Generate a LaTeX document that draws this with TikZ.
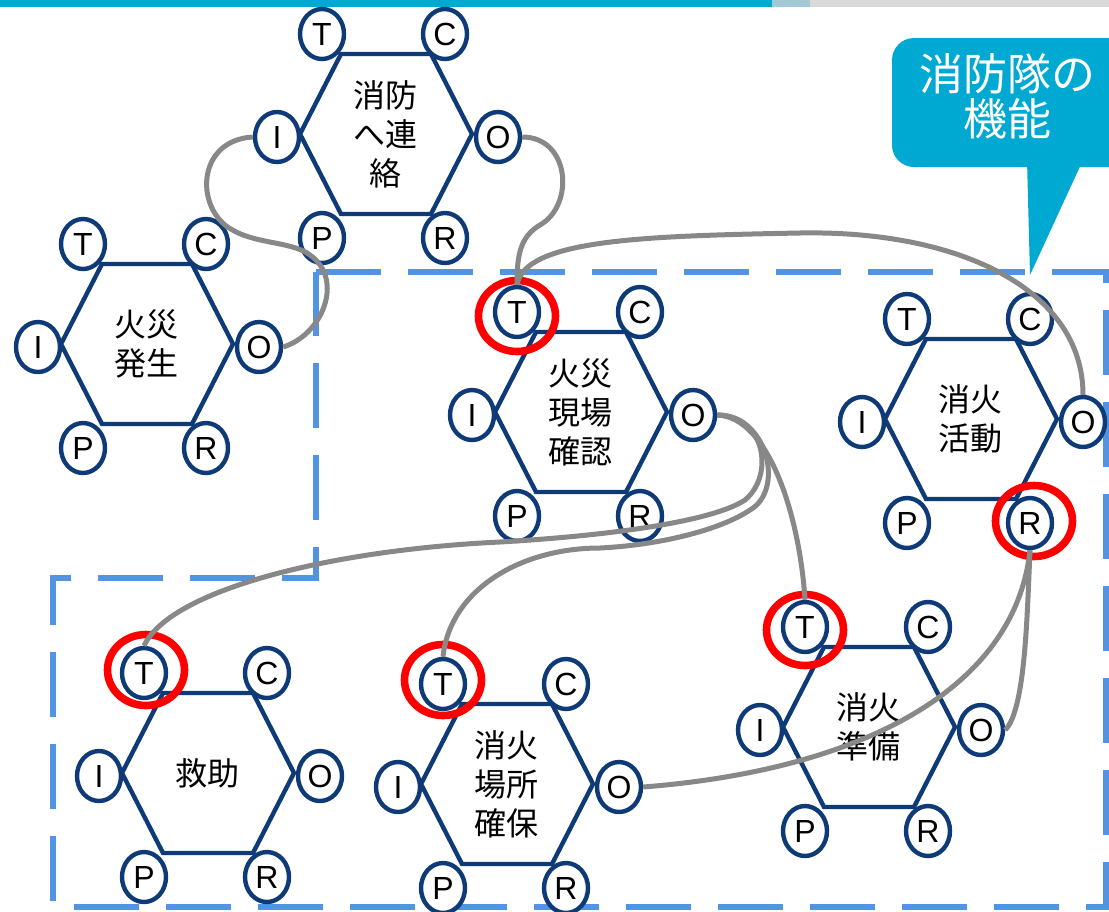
\documentclass[tikz,border=0pt]{standalone}
\usepackage{fontspec}
\setmainfont{Liberation Sans}
\newfontfamily\jp{Noto Sans CJK JP}
\usetikzlibrary{shapes.geometric,calc}
\definecolor{hexblue}{RGB}{15,58,120}
\definecolor{conngray}{RGB}{136,136,136}
\definecolor{dashblue}{RGB}{82,148,226}
\definecolor{barcyan}{RGB}{0,169,209}
\definecolor{barmid}{RGB}{163,201,214}
\definecolor{bargray}{RGB}{217,217,217}
\newcommand{\hexag}[4]{%
  \coordinate (#1) at (#2,#3);
  \draw[hexline] ($(#1)+(-45,-80)$) -- ($(#1)+(45,-80)$) -- ($(#1)+(86,0)$)
     -- ($(#1)+(45,80)$) -- ($(#1)+(-45,80)$) -- ($(#1)+(-86,0)$) -- cycle;
  \node[hexlabel] (#1-lab) at ($(#1)+(-1,0)$) {#4};
  \foreach \lab/\dx/\dy in {T/-64/-100, C/59/-100, I/-109/3, O/112/3, P/-64/104, R/59/104}
    \node[portnode] (#1-\lab) at ($(#1)+(\dx,\dy)$) {\lab};
}
\begin{document}
\begin{tikzpicture}[x=0.5pt,y=-0.5pt,
  hexline/.style={draw=hexblue,line width=2.2pt,line join=miter},
  hexlabel/.style={align=center,font=\jp\fontsize{16}{19.5}\selectfont,inner sep=0pt},
  portnode/.style={ellipse,draw=hexblue,fill=white,line width=2.2pt,minimum width=22pt,minimum height=25pt,inner sep=0pt,font=\fontsize{16}{18}\selectfont},
  redring/.style={ellipse,draw=red,line width=3.8pt,minimum width=38.5pt,minimum height=35.5pt,inner sep=0pt},
  conn/.style={draw=conngray,line width=2.5pt},
  dashbox/.style={draw=dashblue,line width=3.3pt,dash pattern=on 32.5pt off 13.5pt}
]
\clip (0,0) rectangle (1109,911);
\fill[white] (0,0) rectangle (1109,911);
% top bar
\fill[barcyan] (0,0) rectangle (772,7);
\fill[barmid] (772,0) rectangle (810,7);
\fill[bargray] (810,0) rectangle (1109,7);
% callout
\fill[barcyan,rounded corners=11pt] (892,38) rectangle (1135,167);
\fill[barcyan] (1027,160) -- (1083,160) -- (1030,275) -- cycle;
\node[text=white,align=center,font=\jp\fontsize{22}{22.5}\selectfont,inner sep=0pt] (title) at (1007,96) {消防隊の\\機能};
% dashed region
\draw[dashbox] (316,272) -- (1106,272) -- (1106,907) -- (53,907) -- (53,578) -- (316,578) -- cycle;
% hexagons
\hexag{A}{386}{134}{消防\\へ連\\絡}
\hexag{B}{147}{344}{火災\\発生}
\hexag{C}{581}{412}{火災\\現場\\確認}
\hexag{D}{971}{419}{消火\\活動}
\hexag{E}{869}{727}{消火\\準備}
\hexag{F}{208}{773}{救助}
\hexag{G}{507}{784}{消火\\場所\\確保}
% red rings
\node[redring] (r1) at (517,316) {};
\node[redring] (r2) at (1034,521) {};
\node[redring] (r3) at (805,630) {};
\node[redring] (r4) at (146,670) {};
\node[redring] (r5) at (443,680) {};
% connectors
\draw[conn] (B-O.east) .. controls (322,335) and (345,280) .. (310,255)
  .. controls (290,240) and (250,245) .. (225,225)
  .. controls (195,200) and (200,140) .. (A-I.west);
\draw[conn] (A-O.east) .. controls (570,137) and (575,205) .. (540,225)
  .. controls (520,237) and (517,255) .. (C-T.north);
\draw[conn] (C-T.north) .. controls (525,240) and (640,236) .. (800,233)
  .. controls (960,230) and (1083,290) .. (D-O.north);
\draw[conn] (C-O.east) .. controls (770,417) and (800,520) .. (E-T.north);
\draw[conn] (C-O.east) .. controls (765,415) and (775,475) .. (745,500)
  .. controls (715,520) and (620,535) .. (500,542)
  .. controls (330,550) and (170,590) .. (F-T.north);
\draw[conn] (C-O.east) .. controls (768,415) and (785,490) .. (750,510)
  .. controls (720,530) and (660,545) .. (600,548)
  .. controls (520,548) and (450,590) .. (G-T.north);
\draw[conn] (D-R.south) .. controls (1027,620) and (1025,710) .. (E-O.east);
\draw[conn] (D-R.south) .. controls (1015,690) and (860,770) .. (G-O.east);
\end{tikzpicture}
\end{document}
